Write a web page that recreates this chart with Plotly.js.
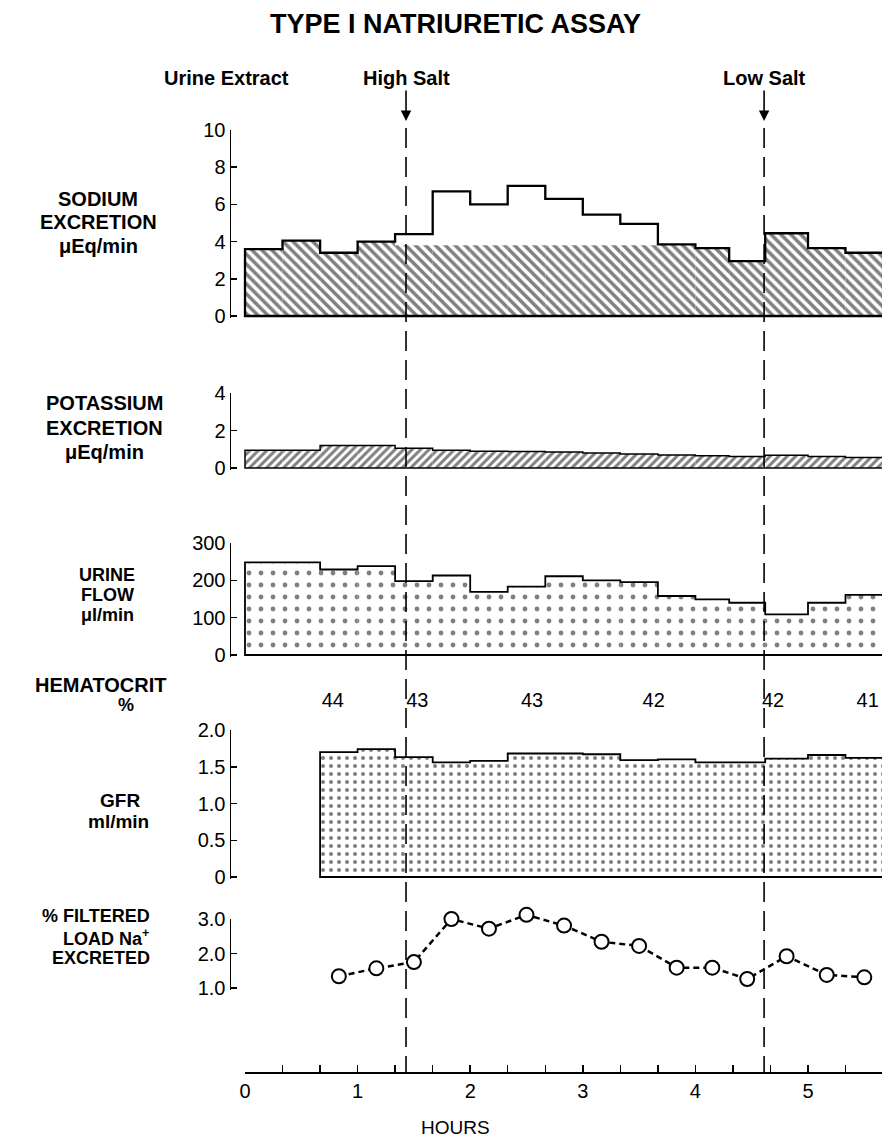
<!DOCTYPE html>
<html><head><meta charset="utf-8">
<script src="https://cdn.plot.ly/plotly-3.0.1.min.js"></script>
<style>html,body{margin:0;padding:0;background:#fff}</style>
</head><body><div id="chart" style="width:882px;height:1139px"></div>
<script>
// ---- DATA (hours; 20-min collection periods) ----
const binEdges = [0, 0.333, 0.667, 1.0, 1.333, 1.667, 2.0, 2.333, 2.667, 3.0, 3.333, 3.667, 4.0, 4.3, 4.62, 5.0, 5.333, 5.667];
const sodiumTotal = [3.6, 4.05, 3.4, 4.0, 4.4, 6.7, 6.0, 7.0, 6.3, 5.45, 4.95, 3.85, 3.65, 2.95, 4.45, 3.65, 3.4];
const sodiumBase  = [3.6, 4.05, 3.4, 4.0, 3.8, 3.8, 3.8, 3.8, 3.8, 3.8, 3.8, 3.85, 3.65, 2.95, 4.45, 3.65, 3.4];
const potassium   = [0.95, 0.95, 1.2, 1.2, 1.05, 0.95, 0.9, 0.88, 0.85, 0.8, 0.75, 0.7, 0.65, 0.62, 0.68, 0.62, 0.56];
const urineFlow   = [248, 248, 229, 238, 198, 213, 169, 183, 211, 200, 195, 158, 149, 140, 109, 140, 161];
const gfr         = [null, null, 1.70, 1.74, 1.63, 1.56, 1.58, 1.68, 1.68, 1.67, 1.59, 1.60, 1.56, 1.56, 1.61, 1.66, 1.62];
const filteredNa  = [null, null, 1.34, 1.57, 1.75, 3.0, 2.72, 3.12, 2.81, 2.34, 2.22, 1.59, 1.59, 1.26, 1.92, 1.38, 1.31];
const hctHours  = [0.78, 1.53, 2.55, 3.63, 4.69, 5.53];
const hctValues = ['44', '43', '43', '42', '42', '41'];
const highSaltHour = 1.43;
const lowSaltHour = 4.61;
const hourTickVals = [0, 1, 2, 3, 4, 5];
const hourTickText = ['0', '1', '2', '3', '4', '5'];

// ---- LAYOUT HELPERS ----
const W = 882, H = 1139;
const px = v => v / W;
const py = v => 1 - v / H;
const X0_PX = 245, PX_PER_HOUR = 112.6, AXIS_PX = 231;
const xRange = [(AXIS_PX - X0_PX) / PX_PER_HOUR, (W - X0_PX) / PX_PER_HOUR];
const FONT = 'Liberation Sans, Arial, sans-serif';
const PAD = 2;

const mids = binEdges.slice(0, -1).map((e, i) => (e + binEdges[i + 1]) / 2);
const widths = binEdges.slice(0, -1).map((e, i) => binEdges[i + 1] - e);

function outline(vals) {
  const s = vals.findIndex(v => v !== null);
  const n = vals.length;
  const xs = [binEdges[n], binEdges[s]], ys = [0, 0];
  for (let i = s; i < n; i++) { xs.push(binEdges[i]); ys.push(vals[i]); }
  xs.push(binEdges[n]); ys.push(vals[n - 1]);
  xs.push(binEdges[n]); ys.push(0);
  return { xs, ys };
}

// zeroPx/topPx: pixel rows of vmin/vmax
function panelAxis(zeroPx, topPx, vmin, vmax, tickvals, ticktext) {
  const per = (vmax - vmin) / (zeroPx - topPx);
  return {
    domain: [py(zeroPx + PAD), py(topPx)],
    range: [vmin - PAD * per, vmax],
    anchor: 'x', tickvals, ticktext,
    ticks: 'inside', ticklen: 6, tickwidth: 1.5, tickcolor: 'black',
    showline: true, linecolor: 'black', linewidth: 1.5,
    showgrid: false, zeroline: false, fixedrange: true,
    tickfont: { family: FONT, size: 20, color: 'black' }
  };
}
// invisible twin with the same scale but extended upward (for points above the axis top)
function twinAxis(zeroPx, topPx, vmin, vmax, extra) {
  const per = (vmax - vmin) / (zeroPx - topPx);
  return { domain: [py(zeroPx + PAD), py(topPx - extra / per)], range: [vmin - PAD * per, vmax + extra],
    anchor: 'x', visible: false, fixedrange: true };
}

function hatched(vals, yaxis, shape, size, solidity) {
  return {
    type: 'bar', x: mids, y: vals, width: widths, xaxis: 'x', yaxis,
    marker: { color: 'white', line: { width: 0 },
      pattern: { shape, fgcolor: 'black', bgcolor: 'white', size, solidity, fillmode: 'overlay' } },
    hoverinfo: 'skip', showlegend: false
  };
}
function edge(vals, yaxis, w) {
  const o = outline(vals);
  return { type: 'scatter', mode: 'lines', x: o.xs, y: o.ys, xaxis: 'x', yaxis,
    line: { color: 'black', width: w, shape: 'hv' }, hoverinfo: 'skip', showlegend: false, cliponaxis: false };
}

const traces = [
  hatched(sodiumBase, 'y', '\\', 7, 0.5),
  edge(sodiumTotal, 'y', 2.3),
  hatched(potassium, 'y2', '/', 6, 0.5),
  edge(potassium, 'y2', 1.5),
  hatched(urineFlow, 'y3', '.', 12, 0.13),
  edge(urineFlow, 'y3', 1.8),
  hatched(gfr, 'y4', '.', 8, 0.2),
  edge(gfr, 'y4', 1.8),
  { type: 'scatter', mode: 'lines+markers', x: mids, y: filteredNa, xaxis: 'x', yaxis: 'y7',
    connectgaps: false,
    line: { color: 'black', width: 2.5, dash: '6px,4px' },
    marker: { symbol: 'circle', size: 14, color: 'white', line: { color: 'black', width: 2 } },
    cliponaxis: false, hoverinfo: 'skip', showlegend: false },
  { type: 'scatter', mode: 'text', x: hctHours, y: hctHours.map(() => 0.5), text: hctValues,
    xaxis: 'x2', yaxis: 'y6', textfont: { family: FONT, size: 20, color: 'black' },
    cliponaxis: true, hoverinfo: 'skip', showlegend: false },
  { type: 'scatter', mode: 'markers', x: [], y: [], xaxis: 'x', yaxis: 'y5', hoverinfo: 'skip', showlegend: false }
];

const shapes = [highSaltHour, lowSaltHour].map(h => ({
  type: 'line', xref: 'x', yref: 'paper', x0: h, x1: h, y0: py(128), y1: py(1072),
  line: { color: 'black', width: 1.6, dash: '20px,9px' }, layer: 'above'
}));

const allTicks = [], allTickText = [];
for (let k = 0; k <= 17; k++) {
  allTicks.push(k / 3);
  const idx = (k % 3 === 0) ? hourTickVals.indexOf(k / 3) : -1;
  allTickText.push(idx >= 0 ? hourTickText[idx] : '');
}

function lab(text, x, y, size, bold) {
  return { text: bold ? '<b>' + text + '</b>' : text, xref: 'paper', yref: 'paper', x: px(x), y: py(y),
    xanchor: 'center', yanchor: 'middle', showarrow: false,
    font: { family: FONT, size, color: 'black' } };
}
// treatment label with a downward arrow ending just above the panel
function marker(text, h) {
  return { text: '<b>' + text + '</b>', xref: 'x', yref: 'paper', x: h, y: py(121), ax: 0, ay: -43,
    showarrow: true, arrowhead: 2, arrowsize: 1.3, arrowwidth: 1.6, arrowcolor: 'black',
    font: { family: FONT, size: 20, color: 'black' } };
}

const annotations = [
  lab('TYPE I NATRIURETIC ASSAY', 455, 24, 27, true),
  lab('Urine Extract', 226, 78, 20, true),
  marker('High Salt', highSaltHour),
  marker('Low Salt', lowSaltHour),
  lab('SODIUM', 98, 199, 20, true),
  lab('EXCRETION', 98, 222, 20, true),
  lab('μEq/min', 98, 246, 20, true),
  lab('POTASSIUM', 104, 403, 20, true),
  lab('EXCRETION', 104, 428, 20, true),
  lab('μEq/min', 104, 452, 20, true),
  lab('URINE', 107, 575, 18, true),
  lab('FLOW', 107, 595, 18, true),
  lab('μl/min', 107, 615, 18, true),
  lab('HEMATOCRIT', 100, 685, 20, true),
  lab('%', 126, 705, 18, true),
  lab('GFR', 120, 800, 19, true),
  lab('ml/min', 118, 821, 19, true),
  lab('% FILTERED', 96, 916, 18, true),
  lab('LOAD Na<sup>+</sup>', 106, 937, 18, true),
  lab('EXCRETED', 101, 958, 18, true),
  lab('HOURS', 455, 1127, 19, false)
];

const layout = {
  width: W, height: H, margin: { l: 0, r: 0, t: 0, b: 0 },
  paper_bgcolor: 'white', plot_bgcolor: 'rgba(0,0,0,0)',
  barmode: 'overlay', showlegend: false,
  xaxis: { domain: [px(AXIS_PX), 1], range: xRange, visible: false, fixedrange: true },
  xaxis2: { domain: [px(X0_PX), 1], range: [0, (W - X0_PX) / PX_PER_HOUR], anchor: 'free', position: py(1072),
    tickvals: allTicks, ticktext: allTickText, ticks: 'inside', ticklen: 7, tickwidth: 1.5, tickcolor: 'black',
    showline: true, linecolor: 'black', linewidth: 1.5, showgrid: false, zeroline: false, fixedrange: true,
    tickfont: { family: FONT, size: 20, color: 'black' } },
  yaxis:  panelAxis(316, 130, 0, 10, [0, 2, 4, 6, 8, 10], ['0', '2', '4', '6', '8', '10']),
  yaxis2: panelAxis(468, 393, 0, 4, [0, 2, 4], ['0', '2', '4']),
  yaxis3: panelAxis(655, 543, 0, 300, [0, 100, 200, 300], ['0', '100', '200', '300']),
  yaxis4: panelAxis(877, 730, 0, 2, [0, 0.5, 1, 1.5, 2], ['0', '0.5', '1.0', '1.5', '2.0']),
  yaxis5: panelAxis(988, 919, 1, 3, [1, 2, 3], ['1.0', '2.0', '3.0']),
  yaxis7: twinAxis(988, 919, 1, 3, 0.4),
  yaxis6: { domain: [py(712), py(692)], range: [0, 1], anchor: 'x2', visible: false, fixedrange: true },
  shapes, annotations
};

Plotly.newPlot('chart', traces, layout, { displayModeBar: false, staticPlot: true });
</script></body></html>
